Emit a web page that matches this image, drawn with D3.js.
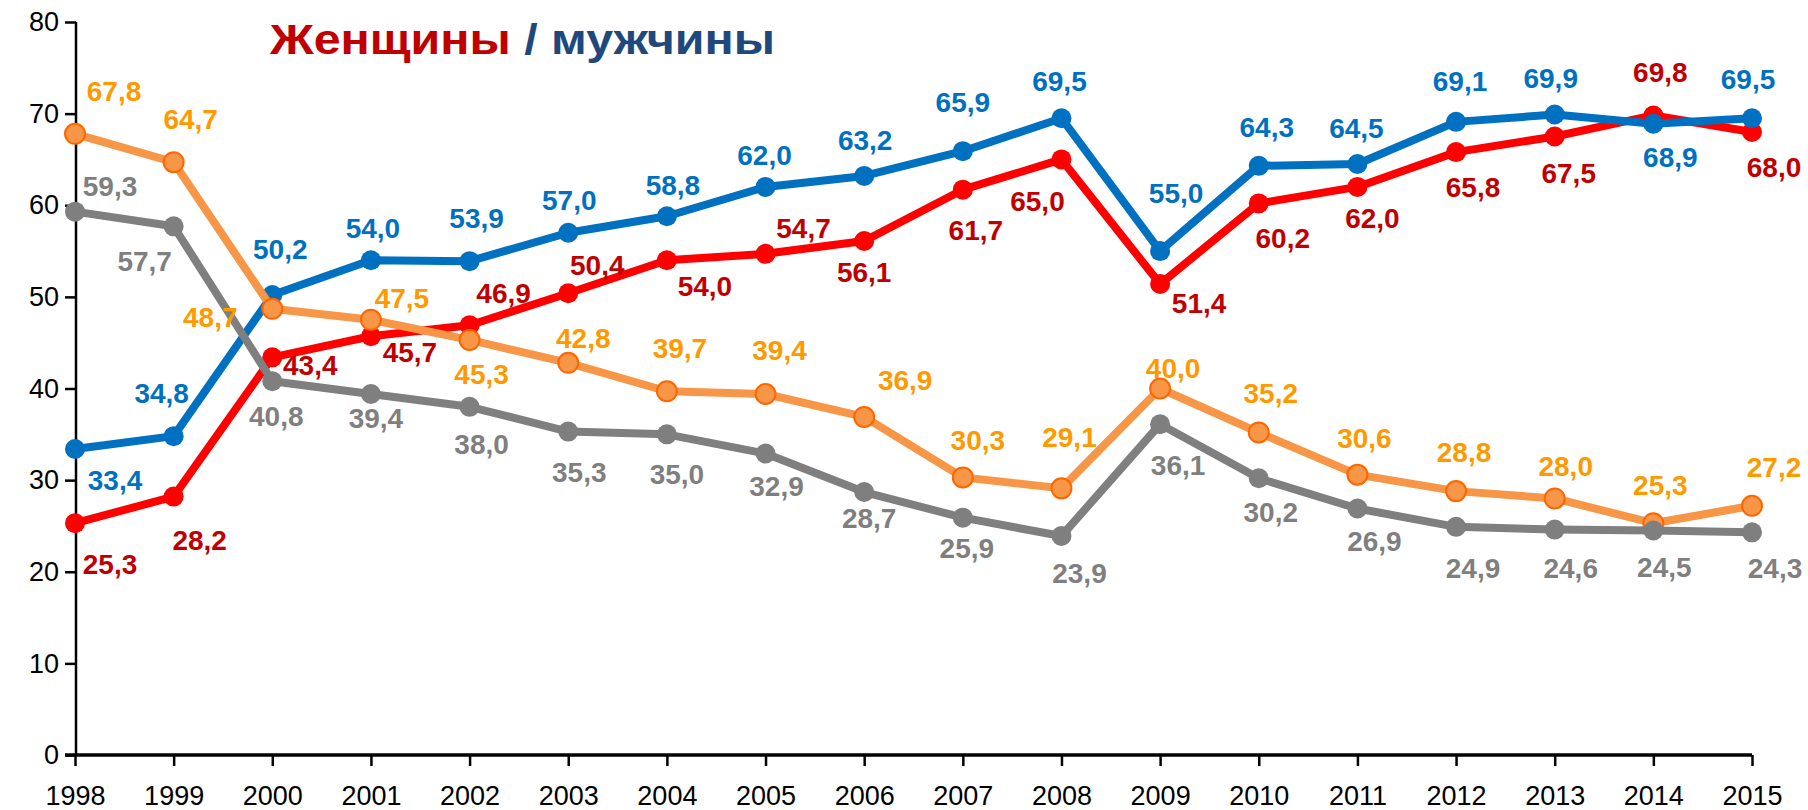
<!DOCTYPE html>
<html lang="ru">
<head>
  <meta charset="UTF-8">
  <title>Женщины / мужчины</title>
  <style>
    body { margin: 0; background: #fff; }
    svg { display: block; font-family: "Liberation Sans", Arial, sans-serif; }
  </style>
</head>
<body>
  <svg id="chart" width="1808" height="810"></svg>

  <script src="https://d3js.org/d3.v7.min.js"></script>
  <script>
    const years = [1998, 1999, 2000, 2001, 2002, 2003, 2004, 2005, 2006,
                   2007, 2008, 2009, 2010, 2011, 2012, 2013, 2014, 2015];
    const yTicks = [0, 10, 20, 30, 40, 50, 60, 70, 80];

    const blueValues = [33.4, 34.8, 50.2, 54.0, 53.9, 57.0, 58.8, 62.0, 63.2,
                        65.9, 69.5, 55.0, 64.3, 64.5, 69.1, 69.9, 68.9, 69.5];
    const redValues = [25.3, 28.2, 43.4, 45.7, 46.9, 50.4, 54.0, 54.7, 56.1,
                       61.7, 65.0, 51.4, 60.2, 62.0, 65.8, 67.5, 69.8, 68.0];
    const orangeValues = [67.8, 64.7, 48.7, 47.5, 45.3, 42.8, 39.7, 39.4, 36.9,
                          30.3, 29.1, 40.0, 35.2, 30.6, 28.8, 28.0, 25.3, 27.2];
    const grayValues = [59.3, 57.7, 40.8, 39.4, 38.0, 35.3, 35.0, 32.9, 28.7,
                        25.9, 23.9, 36.1, 30.2, 26.9, 24.9, 24.6, 24.5, 24.3];

    // where each value label sits relative to its point (px)
    const blueLabelPos = [[40,31],[-12,-43],[8,-46],[2,-32],[7,-43],[1,-33],[6,-31],[-1,-32],[1,-36],
                          [0,-49],[-2,-37],[16,-58],[8,-39],[-1,-36],[4,-41],[-4,-37],[17,33],[-4,-39]];
    const redLabelPos = [[35,41],[26,43],[38,8],[39,16],[34,-32],[29,-28],[38,26],[38,-26],[0,31],
                         [13,40],[-24,41],[39,19],[24,35],[15,31],[17,35],[14,36],[7,-44],[22,35]];
    const orangeLabelPos = [[39,-43],[17,-43],[-62,8],[31,-22],[12,34],[15,-25],[13,-43],[14,-44],[41,-37],
                            [15,-37],[8,-51],[13,-21],[12,-40],[7,-37],[8,-39],[11,-33],[7,-38],[22,-39]];
    const grayLabelPos = [[35,-26],[-29,35],[4,35],[5,24],[12,37],[11,40],[10,40],[11,32],[5,26],
                          [4,30],[18,37],[18,41],[12,34],[17,32],[17,41],[16,38],[11,36],[23,36]];

    // drawing order: red, blue, orange, gray (gray on top)
    const series = [
      { values: redValues, pos: redLabelPos, line: "#ff0000", fill: "#ff0000", stroke: "none", text: "#c00000" },
      { values: blueValues, pos: blueLabelPos, line: "#0070c0", fill: "#0070c0", stroke: "none", text: "#0070c0" },
      { values: orangeValues, pos: orangeLabelPos, line: "#f79646", fill: "#f79646", stroke: "#ff6600", text: "#ff9900" },
      { values: grayValues, pos: grayLabelPos, line: "#7f7f7f", fill: "#7f7f7f", stroke: "none", text: "#7f7f7f" }
    ];

    const svg = d3.select("#chart");

    const x = d3.scalePoint().domain(years).range([75, 1752]);
    const y = d3.scaleLinear().domain([0, 80]).range([755, 22]);

    // y axis
    const yAxis = svg.append("g")
      .attr("transform", "translate(76,0)")
      .call(d3.axisLeft(y).tickValues(yTicks).tickSize(11).tickPadding(6).tickFormat(d3.format("d")));
    yAxis.select(".domain").attr("stroke", "#000").attr("stroke-width", 2.5)
      .attr("d", `M0,${y(80)}V${y(0)}`);
    yAxis.selectAll(".tick line").attr("stroke", "#000").attr("stroke-width", 2.5);
    yAxis.selectAll(".tick text").attr("font-size", 27).attr("fill", "#000")
      .attr("font-family", "Liberation Sans, Arial, sans-serif");

    // x axis
    const xAxis = svg.append("g")
      .attr("transform", `translate(0,${y(0)})`)
      .call(d3.axisBottom(x).tickSize(11).tickPadding(20));
    xAxis.select(".domain").attr("stroke", "#000").attr("stroke-width", 3.5)
      .attr("d", `M${x(1998) - 10},0H${x(2015)}`);
    xAxis.selectAll(".tick line").attr("stroke", "#000").attr("stroke-width", 2.5);
    xAxis.selectAll(".tick text").attr("font-size", 27).attr("fill", "#000")
      .attr("font-family", "Liberation Sans, Arial, sans-serif");

    const line = d3.line()
      .x((d, i) => x(years[i]))
      .y(d => y(d));

    series.forEach(s => {
      const g = svg.append("g");
      g.append("path")
        .datum(s.values)
        .attr("d", line)
        .attr("fill", "none")
        .attr("stroke", s.line)
        .attr("stroke-width", 8)
        .attr("stroke-linejoin", "round");
      g.selectAll("circle")
        .data(s.values)
        .join("circle")
        .attr("cx", (d, i) => x(years[i]))
        .attr("cy", d => y(d))
        .attr("r", 10)
        .attr("fill", s.fill)
        .attr("stroke", s.stroke)
        .attr("stroke-width", 2);
    });

    // value labels above all lines
    series.forEach(s => {
      svg.append("g")
        .selectAll("text")
        .data(s.values)
        .join("text")
        .attr("x", (d, i) => x(years[i]) + s.pos[i][0])
        .attr("y", (d, i) => y(d) + s.pos[i][1])
        .attr("dy", "0.36em")
        .attr("text-anchor", "middle")
        .attr("font-size", 28)
        .attr("font-weight", "bold")
        .attr("fill", s.text)
        .text(d => d.toFixed(1).replace(".", ","));
    });

    // title
    const title = svg.append("text")
      .attr("x", 270)
      .attr("y", 54)
      .attr("font-size", 43)
      .attr("font-weight", "bold")
      .attr("textLength", 505)
      .attr("lengthAdjust", "spacingAndGlyphs");
    title.append("tspan").attr("fill", "#c00000").text("Женщины");
    title.append("tspan").attr("fill", "#1f497d").text(" / мужчины");
  </script>
</body>
</html>
